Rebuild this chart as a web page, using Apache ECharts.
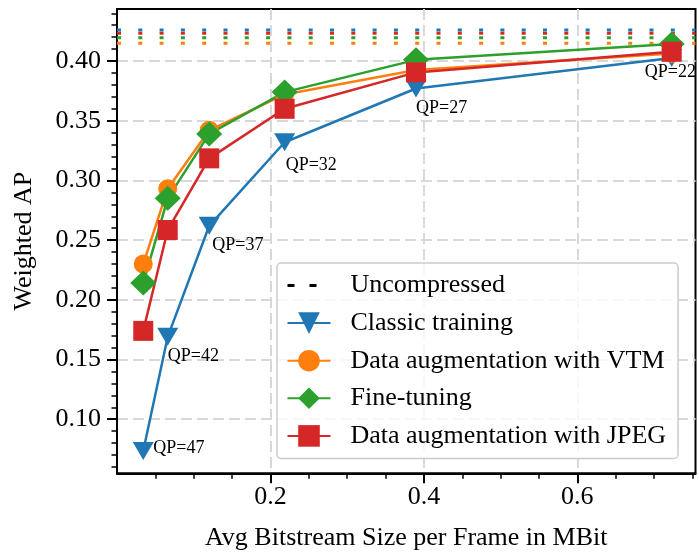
<!DOCTYPE html>
<html>
<head>
<meta charset="utf-8">
<script src="https://cdn.jsdelivr.net/npm/echarts@6/dist/echarts.min.js"></script>
<style>
  html, body { margin: 0; padding: 0; background: #fff; }
  #chart { width: 699px; height: 552px; }
</style>
</head>
<body>
<div id="chart"></div>
<script>
// bitstream size per frame (MBit), QP 47 -> 22
const bitrate = [0.0342, 0.0661, 0.1202, 0.2185, 0.3897, 0.7230]
const qpLabels = ['QP=47', 'QP=42', 'QP=37', 'QP=32', 'QP=27', 'QP=22']
// weighted AP per training variant
const classicAP = [0.0734, 0.169, 0.262, 0.332, 0.377, 0.4025]
const vtmAugAP = [0.230, 0.293, 0.342, 0.372, 0.3925, 0.4064]
const fineTuneAP = [0.214, 0.285, 0.339, 0.374, 0.401, 0.4142]
const jpegAugAP = [0.174, 0.2585, 0.3185, 0.360, 0.3905, 0.4078]
// uncompressed AP: classic, vtm, fine-tuning, jpeg
const uncompressedAP = [0.426, 0.4149, 0.4195, 0.4232]
const xRange = [0, 0.754]
const yRange = [0.0547, 0.4436]
const xTicks = [0.2, 0.4, 0.6]
const yTicks = [0.10, 0.15, 0.20, 0.25, 0.30, 0.35, 0.40]

// label placement of the QP annotations (px, relative to marker centre)
const qpOffsets = [[10, -3], [0, 19], [3, 19], [1, 23], [0, 20], [-27, 14]]

const FONT = "'Liberation Serif', 'Times New Roman', serif"
const GRID_LINE = { show: true, lineStyle: { color: '#d8d8d8', width: 2, type: [11, 5] } }
const COLORS = ['#1f77b4', '#ff7f0e', '#2ca02c', '#d62728']

const lineSeries = (name, values, color, symbol, size, rotate) => ({
  name: name,
  type: 'line',
  z: 3,
  data: values.map((v, i) => [bitrate[i], v]),
  symbol: symbol,
  symbolSize: size,
  symbolRotate: rotate,
  showAllSymbol: true,
  lineStyle: { color: color, width: 2.5 },
  itemStyle: { color: color }
})

// horizontal dotted reference line across the whole x range
const uncompressedLine = (value, color) => ({
  name: 'uncompressed-ref',
  type: 'line',
  z: 2,
  silent: true,
  symbol: 'none',
  data: [[xRange[0], value], [xRange[1], value]],
  lineStyle: { color: color, width: 3, type: [4, 17.3] },
  itemStyle: { color: color }
})

const classic = lineSeries('Classic training', classicAP, COLORS[0], 'triangle', [21, 18], 180)
classic.data = classicAP.map((v, i) => ({
  value: [bitrate[i], v],
  label: {
    show: true,
    formatter: qpLabels[i],
    position: 'inside',
    align: 'left',
    verticalAlign: 'middle',
    offset: qpOffsets[i],
    fontFamily: FONT,
    fontSize: 18,
    color: '#000'
  }
}))

const chart = echarts.init(document.getElementById('chart'))
chart.setOption({
  animation: false,
  grid: {
    left: 117,
    right: 3.5,
    top: 9,
    bottom: 78.7,
    show: true,
    borderColor: '#000',
    borderWidth: 2,
    containLabel: false,
    outerBoundsMode: 'none'
  },
  xAxis: {
    type: 'value',
    min: xRange[0],
    max: xRange[1],
    splitNumber: 4,
    name: 'Avg Bitstream Size per Frame in MBit',
    nameLocation: 'middle',
    nameGap: 52,
    nameTextStyle: { fontFamily: FONT, fontSize: 26, color: '#000' },
    axisLine: { show: true, lineStyle: { color: '#000', width: 2 } },
    axisTick: { show: true, length: 10, customValues: xTicks, lineStyle: { color: '#000', width: 2 } },
    minorTick: { show: true, splitNumber: 4, length: 5.5, lineStyle: { color: '#000', width: 1.5 } },
    axisLabel: {
      customValues: xTicks,
      margin: 11,
      fontFamily: FONT,
      fontSize: 26,
      color: '#000',
      formatter: (v) => v.toFixed(1)
    },
    splitLine: GRID_LINE
  },
  yAxis: {
    type: 'value',
    min: yRange[0],
    max: yRange[1],
    splitNumber: 8,
    name: 'Weighted AP',
    nameLocation: 'middle',
    nameGap: 80,
    nameTextStyle: { fontFamily: FONT, fontSize: 26, color: '#000' },
    axisLine: { show: true, lineStyle: { color: '#000', width: 2 } },
    axisTick: { show: true, length: 10, customValues: yTicks, lineStyle: { color: '#000', width: 2 } },
    minorTick: { show: true, splitNumber: 5, length: 5.5, lineStyle: { color: '#000', width: 1.5 } },
    axisLabel: {
      customValues: yTicks,
      margin: 16,
      fontFamily: FONT,
      fontSize: 26,
      color: '#000',
      formatter: (v) => v.toFixed(2)
    },
    splitLine: GRID_LINE
  },
  legend: {
    orient: 'vertical',
    left: 277,
    top: 263,
    padding: [9, 12, 9, 9],
    itemWidth: 43,
    itemHeight: 27,
    itemGap: 10.6,
    selectedMode: false,
    backgroundColor: 'rgba(255,255,255,0.8)',
    borderColor: '#cccccc',
    borderWidth: 1.5,
    borderRadius: 4,
    textStyle: { fontFamily: FONT, fontSize: 26, lineHeight: 27, color: '#000', padding: [0, 0, 0, 15] },
    data: [
      {
        name: 'Uncompressed',
        itemStyle: { color: 'rgba(0,0,0,0)', borderWidth: 0 },
        lineStyle: { color: '#000', width: 3, type: [7, 15] }
      },
      'Classic training',
      'Data augmentation with VTM',
      'Fine-tuning',
      'Data augmentation with JPEG'
    ]
  },
  series: [
    {
      name: 'Uncompressed',
      type: 'line',
      data: [],
      symbol: 'none',
      itemStyle: { color: '#000' },
      lineStyle: { color: '#000', width: 3, type: [7, 15] }
    },
    uncompressedLine(uncompressedAP[1], COLORS[1]),
    uncompressedLine(uncompressedAP[2], COLORS[2]),
    uncompressedLine(uncompressedAP[3], COLORS[3]),
    uncompressedLine(uncompressedAP[0], COLORS[0]),
    classic,
    lineSeries('Data augmentation with VTM', vtmAugAP, COLORS[1], 'circle', 19, 0),
    lineSeries('Fine-tuning', fineTuneAP, COLORS[2], 'diamond', [26, 25], 0),
    lineSeries('Data augmentation with JPEG', jpegAugAP, COLORS[3], 'rect', 20, 0)
  ]
})
</script>
</body>
</html>
